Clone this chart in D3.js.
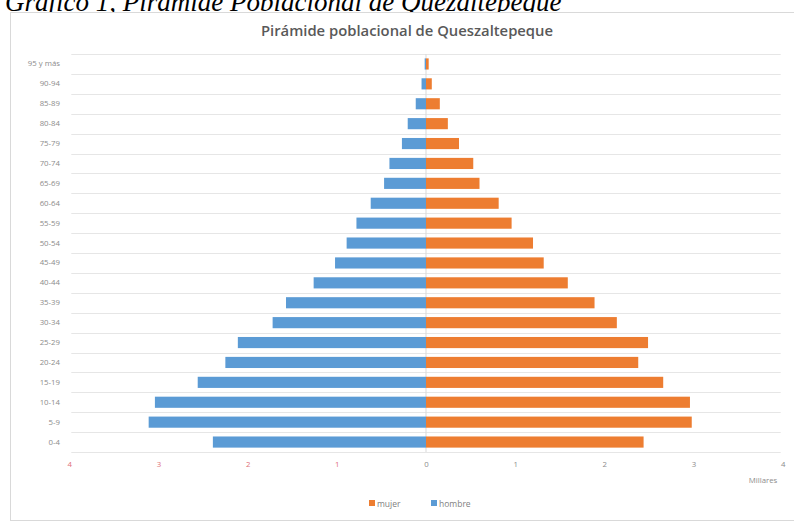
<!DOCTYPE html>
<html>
<head>
<meta charset="utf-8">
<script src="https://cdn.jsdelivr.net/npm/d3@7"></script>
<style>
  html, body { margin: 0; padding: 0; background: #fff; }
  svg { display: block; }
</style>
</head>
<body>
<svg id="chart" width="794" height="523"></svg>
<script>
// Data (thousands of people)
const categories = ["95 y más","90-94","85-89","80-84","75-79","70-74","65-69","60-64","55-59","50-54","45-49","40-44","35-39","30-34","25-29","20-24","15-19","10-14","5-9","0-4"];
const hombre = [0.015,0.05,0.115,0.205,0.27,0.41,0.47,0.62,0.78,0.89,1.02,1.26,1.57,1.72,2.11,2.25,2.56,3.04,3.11,2.39];
const mujer  = [0.03,0.065,0.155,0.245,0.37,0.53,0.60,0.815,0.96,1.20,1.32,1.59,1.89,2.14,2.49,2.38,2.66,2.96,2.98,2.44];
const xTicks = [-4,-3,-2,-1,0,1,2,3,4];
const seriesNames = ["mujer","hombre"];
const colors = {mujer: "#ED7D31", hombre: "#5B9BD5"};

const svg = d3.select("#chart");

// Document caption above the chart (cut at the top, as in the source)
svg.append("text")
  .attr("x", 5).attr("y", 11)
  .attr("font-family", "Liberation Serif, Times New Roman, serif")
  .attr("font-style", "italic")
  .attr("font-size", 27)
  .attr("fill", "#000")
  .text("Gráfico 1, Pirámide Poblacional de Quezaltepeque");

// Chart frame
svg.append("rect")
  .attr("x", 10.5).attr("y", 12.5)
  .attr("width", 790).attr("height", 508)
  .attr("fill", "#fff")
  .attr("stroke", "#d9d9d9");

// Chart title
svg.append("text")
  .attr("x", 407).attr("y", 36)
  .attr("text-anchor", "middle")
  .attr("font-family", "Open Sans, sans-serif")
  .attr("font-weight", 600)
  .attr("font-size", 14.8)
  .attr("fill", "#595959")
  .text("Pirámide poblacional de Queszaltepeque");

const x = d3.scaleLinear().domain([-4, 4]).range([69.3, 782.7]);
const y = d3.scaleBand().domain(categories).range([54, 452]).paddingInner(0.44).paddingOuter(0.22);

// Horizontal gridlines at category boundaries
const bounds = d3.range(categories.length + 1).map(i => 54 + i * (398 / categories.length));
svg.append("g").selectAll("line").data(bounds).join("line")
  .attr("x1", x(-4) + 2).attr("x2", x(4) - 2)
  .attr("y1", d => Math.round(d) + 0.5).attr("y2", d => Math.round(d) + 0.5)
  .attr("stroke", "#e6e6e6").attr("stroke-width", 1);

// Vertical axis line at zero
svg.append("line")
  .attr("x1", x(0)).attr("x2", x(0))
  .attr("y1", 54).attr("y2", 452)
  .attr("stroke", "#d9d9d9");

// Bars
const rows = categories.map((c, i) => ({cat: c, h: hombre[i], m: mujer[i]}));
svg.append("g").selectAll("rect").data(rows).join("rect")
  .attr("x", d => x(-d.h)).attr("width", d => x(0) - x(-d.h))
  .attr("y", d => y(d.cat)).attr("height", y.bandwidth())
  .attr("fill", colors.hombre);
svg.append("g").selectAll("rect").data(rows).join("rect")
  .attr("x", x(0)).attr("width", d => x(d.m) - x(0))
  .attr("y", d => y(d.cat)).attr("height", y.bandwidth())
  .attr("fill", colors.mujer);

// Y axis labels
const yAxis = d3.axisLeft(y).tickSize(0).tickPadding(0);
const gy = svg.append("g").attr("transform", "translate(60,0)").call(yAxis);
gy.select(".domain").remove();
gy.selectAll("text")
  .attr("font-family", "Open Sans, sans-serif")
  .attr("font-size", 7.8)
  .attr("fill", "#8c8c8c");

// X axis labels
const xAxis = d3.axisBottom(x).tickValues(xTicks).tickSize(0).tickPadding(0)
  .tickFormat(d => Math.abs(d));
const gx = svg.append("g").attr("transform", "translate(0,461)").call(xAxis);
gx.select(".domain").remove();
gx.selectAll("text")
  .attr("font-family", "Open Sans, sans-serif")
  .attr("font-size", 7.8)
  .attr("fill", d => d < 0 ? "#e0707a" : "#8c8c8c");

// Display unit label
svg.append("text")
  .attr("x", 763).attr("y", 483)
  .attr("text-anchor", "middle")
  .attr("font-family", "Open Sans, sans-serif")
  .attr("font-size", 7.8)
  .attr("fill", "#8c8c8c")
  .text("Millares");

// Legend
const legendPos = {mujer: 369, hombre: 431};
const lg = svg.append("g").selectAll("g").data(seriesNames).join("g")
  .attr("transform", d => `translate(${legendPos[d]},500)`);
lg.append("rect").attr("width", 6).attr("height", 6).attr("fill", d => colors[d]);
lg.append("text").attr("x", 8).attr("y", 6.5)
  .attr("font-family", "Open Sans, sans-serif")
  .attr("font-size", 8.5)
  .attr("fill", "#7f7f7f")
  .text(d => d);
</script>
</body>
</html>
